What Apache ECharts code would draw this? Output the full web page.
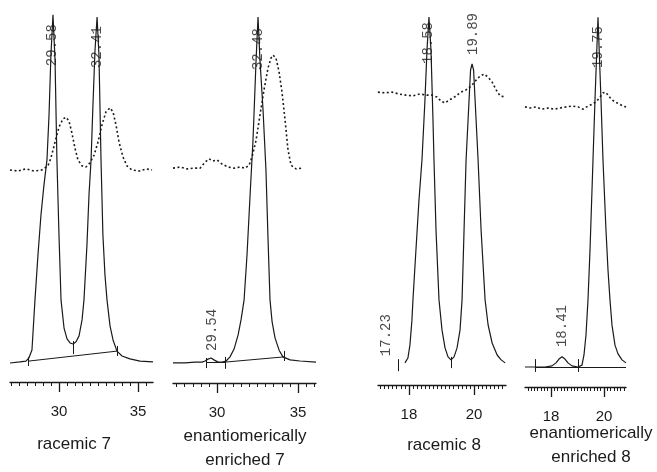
<!DOCTYPE html>
<html>
<head>
<meta charset="utf-8">
<script src="https://cdn.jsdelivr.net/npm/echarts@6/dist/echarts.min.js"></script>
<style>
  html, body { margin: 0; padding: 0; background: #fff; }
  #main { width: 657px; height: 472px; }
</style>
</head>
<body>
<div id="main"></div>
<script>
// racemic 7 : UV trace (solid) and CD trace (dotted), time in min
var rac7Time = [26.90, 27.53, 27.91, 28.10, 28.29, 28.48, 28.67, 28.86, 29.05, 29.24, 29.37, 29.49, 29.62, 29.75, 29.87, 30.00, 30.13, 30.32, 30.51, 30.70, 30.89, 31.08, 31.27, 31.46, 31.58, 31.77, 31.90, 32.03, 32.15, 32.28, 32.41, 32.53, 32.66, 32.78, 32.91, 33.04, 33.23, 33.42, 33.67, 33.99, 34.49, 35.13, 35.95];
var rac7Uv = [5.1, 5.4, 5.6, 6.5, 8.6, 22.0, 34.1, 44.9, 53.0, 59.7, 71.8, 87.9, 98.7, 86.6, 59.7, 39.5, 22.0, 14.5, 11.6, 10.5, 10.2, 10.8, 12.4, 16.7, 22.0, 36.8, 50.3, 59.7, 74.5, 89.2, 98.1, 87.9, 59.7, 39.5, 28.8, 22.0, 15.1, 11.3, 8.3, 7.0, 6.2, 5.6, 5.4];
var rac7CdTime = [26.90, 27.41, 27.91, 28.42, 28.92, 29.30, 29.49, 29.75, 30.00, 30.25, 30.44, 30.63, 30.82, 31.01, 31.20, 31.46, 31.71, 31.96, 32.22, 32.47, 32.72, 32.97, 33.23, 33.42, 33.61, 33.80, 34.05, 34.30, 34.62, 35.13, 35.51, 35.89];
var rac7Cd = [57.0, 56.7, 57.3, 56.7, 57.0, 58.1, 60.2, 64.5, 68.5, 70.7, 71.2, 70.2, 66.9, 62.9, 59.7, 58.1, 57.8, 58.9, 61.0, 64.5, 69.1, 72.6, 73.7, 72.6, 69.1, 64.5, 60.5, 58.1, 57.0, 56.7, 57.3, 57.0];
var rac7Base = [[28.04, 5.6, 33.67, 8.3]];
var rac7Marks = [[28.04, 6.7, 4.3], [30.89, 11.0, 7.5], [33.67, 9.7, 7.0]];
var rac7Peaks = [[29.56, 84.9, '29.58'], [32.41, 84.4, '32.41']];
var rac7Range = [26.9, 35.95];
var rac7Labels = [30, 35];

// enantiomerically enriched 7
var enr7Time = [27.28, 28.02, 28.64, 29.07, 29.26, 29.44, 29.63, 29.81, 30.06, 30.31, 30.56, 30.80, 31.05, 31.30, 31.48, 31.67, 31.85, 32.04, 32.22, 32.41, 32.53, 32.65, 32.84, 33.02, 33.15, 33.27, 33.40, 33.58, 33.83, 34.07, 34.51, 35.12, 36.11];
var enr7Uv = [5.4, 5.4, 5.6, 5.6, 5.9, 6.4, 6.7, 6.2, 5.6, 5.6, 5.9, 7.0, 9.1, 12.9, 16.9, 22.3, 34.3, 50.4, 65.1, 86.6, 98.1, 86.6, 73.2, 57.1, 38.3, 22.3, 16.4, 12.1, 8.8, 7.0, 6.2, 5.9, 5.6];
var enr7CdTime = [27.28, 27.72, 28.15, 28.58, 28.95, 29.26, 29.51, 29.75, 30.00, 30.31, 30.68, 31.05, 31.42, 31.73, 31.98, 32.16, 32.41, 32.65, 32.90, 33.15, 33.33, 33.46, 33.64, 33.83, 34.01, 34.20, 34.38, 34.57, 34.88, 35.25];
var enr7Cd = [57.6, 57.9, 57.4, 57.6, 57.6, 59.2, 60.1, 59.5, 59.8, 58.7, 57.9, 57.6, 57.9, 57.6, 58.4, 60.6, 65.1, 71.8, 78.6, 84.5, 87.1, 87.9, 87.1, 83.4, 78.0, 70.5, 62.5, 58.4, 57.4, 57.6];
var enr7Base = [[29.32, 5.6, 30.49, 5.6], [30.49, 5.6, 34.14, 7.0]];
var enr7Marks = [[29.32, 6.7, 4.0], [30.49, 7.0, 3.8], [34.14, 8.6, 5.9]];
var enr7Peaks = [[29.69, 8.6, '29.54'], [32.53, 83.9, '32.48']];
var enr7Range = [27.28, 36.11];
var enr7Labels = [30, 35];

// racemic 8
var rac8Time = [17.877, 17.969, 18.031, 18.092, 18.123, 18.215, 18.308, 18.400, 18.492, 18.554, 18.615, 18.677, 18.738, 18.769, 18.831, 18.923, 19.015, 19.108, 19.200, 19.292, 19.385, 19.477, 19.569, 19.631, 19.692, 19.754, 19.846, 19.892, 19.938, 19.985, 20.031, 20.123, 20.215, 20.338, 20.431, 20.554, 20.708, 20.831, 20.954];
var rac8Uv = [5.9, 7.2, 10.7, 17.3, 22.7, 36.0, 49.3, 60.0, 76.0, 89.3, 98.1, 89.3, 70.7, 60.0, 41.3, 22.7, 14.7, 9.9, 7.5, 6.7, 7.5, 9.9, 14.7, 22.7, 41.3, 60.0, 76.0, 84.0, 85.6, 84.0, 76.0, 60.0, 41.3, 22.7, 16.0, 11.2, 8.0, 6.7, 5.9];
var rac8CdTime = [17.046, 17.262, 17.477, 17.692, 17.908, 18.123, 18.338, 18.554, 18.708, 18.862, 18.985, 19.108, 19.231, 19.354, 19.477, 19.600, 19.754, 19.908, 20.062, 20.185, 20.308, 20.431, 20.554, 20.677, 20.800, 20.954];
var rac8Cd = [78.1, 77.9, 78.1, 77.6, 77.3, 77.1, 77.6, 77.3, 77.3, 76.8, 75.7, 75.2, 76.0, 76.5, 77.3, 78.1, 78.7, 79.7, 81.3, 82.4, 82.9, 82.1, 80.8, 78.7, 77.1, 76.8];
var rac8Base = [];
var rac8Marks = [[17.66, 6.9, 3.7], [19.292, 7.5, 4.5]];
var rac8Peaks = [[17.29, 7.7, '17.23'], [18.585, 85.6, '18.58'], [19.97, 88.0, '19.89']];
var rac8Range = [17.05, 20.98];
var rac8Labels = [18, 20];

// enantiomerically enriched 8
var enr8Time = [17.019, 17.396, 17.774, 18.038, 18.189, 18.302, 18.415, 18.528, 18.642, 18.792, 19.019, 19.170, 19.245, 19.321, 19.396, 19.472, 19.585, 19.660, 19.774, 19.887, 19.962, 20.075, 20.151, 20.226, 20.302, 20.415, 20.528, 20.679, 20.830];
var enr8Uv = [5.3, 5.3, 5.3, 5.6, 6.4, 7.4, 8.0, 7.4, 6.4, 5.6, 5.3, 5.8, 8.5, 13.8, 23.1, 36.3, 60.2, 76.1, 98.1, 76.1, 60.2, 41.6, 31.0, 23.1, 16.4, 11.1, 8.8, 7.2, 6.4];
var enr8CdTime = [17.019, 17.208, 17.434, 17.660, 17.887, 18.113, 18.340, 18.566, 18.792, 19.019, 19.208, 19.396, 19.585, 19.736, 19.849, 19.962, 20.038, 20.151, 20.264, 20.415, 20.566, 20.717, 20.830];
var enr8Cd = [74.3, 74.0, 74.3, 73.7, 74.0, 73.7, 74.0, 74.3, 74.5, 74.3, 73.7, 74.5, 75.1, 75.9, 76.9, 78.0, 78.2, 77.5, 76.4, 75.6, 75.1, 74.5, 74.3];
var enr8Base = [[17.396, 5.3, 20.830, 5.3]];
var enr8Marks = [[17.396, 7.4, 4.0], [19.019, 7.4, 4.0]];
var enr8Peaks = [[18.415, 10.6, '18.41'], [19.774, 84.6, '19.75']];
var enr8Range = [17.02, 20.83];
var enr8Labels = [18, 20];

var ink = '#1a1a1a';

var panels = [
  {time: rac7Time, uv: rac7Uv, cdTime: rac7CdTime, cd: rac7Cd, base: rac7Base, marks: rac7Marks, peaks: rac7Peaks, range: rac7Range, labels: rac7Labels, step: 0.5,
   grid: {left: 10, width: 143, top: 10, bottom: 90}, title: 'racemic 7', tx: 74, ty: 444},
  {time: enr7Time, uv: enr7Uv, cdTime: enr7CdTime, cd: enr7Cd, base: enr7Base, marks: enr7Marks, peaks: enr7Peaks, range: enr7Range, labels: enr7Labels, step: 0.5,
   grid: {left: 173, width: 143, top: 10, bottom: 89}, title: 'enantiomerically\nenriched 7', tx: 245, ty: 448},
  {time: rac8Time, uv: rac8Uv, cdTime: rac8CdTime, cd: rac8Cd, base: rac8Base, marks: rac8Marks, peaks: rac8Peaks, range: rac8Range, labels: rac8Labels, step: 0.125,
   grid: {left: 378, width: 128, top: 10, bottom: 87}, title: 'racemic 8', tx: 444, ty: 445},
  {time: enr8Time, uv: enr8Uv, cdTime: enr8CdTime, cd: enr8Cd, base: enr8Base, marks: enr8Marks, peaks: enr8Peaks, range: enr8Range, labels: enr8Labels, step: 0.125,
   grid: {left: 525, width: 101, top: 10, bottom: 85}, title: 'enantiomerically\nenriched 8', tx: 591, ty: 445}
];

function minorTicks(range, step) {
  var out = [];
  for (var v = Math.ceil(range[0] / step) * step; v <= range[1] + 1e-9; v += step) {
    out.push(+v.toFixed(3));
  }
  return out;
}

function zip(xs, ys) {
  return xs.map(function (x, i) { return [x, ys[i]]; });
}

var grids = [], xAxes = [], yAxes = [], series = [], graphics = [];

panels.forEach(function (p, i) {
  grids.push(p.grid);
  yAxes.push({type: 'value', gridIndex: i, min: 0, max: 100, show: false});
  // minor ticks + axis line
  xAxes.push({
    type: 'value', gridIndex: i, min: p.range[0], max: p.range[1], position: 'bottom',
    axisLine: {show: true, onZero: false, lineStyle: {color: ink, width: 1.3}},
    axisTick: {show: true, length: 4, customValues: minorTicks(p.range, p.step), lineStyle: {color: ink, width: 1}},
    axisLabel: {show: false},
    splitLine: {show: false}
  });
});
panels.forEach(function (p, i) {
  // major ticks with labels
  xAxes.push({
    type: 'value', gridIndex: i, min: p.range[0], max: p.range[1], position: 'bottom',
    axisLine: {show: false, onZero: false},
    axisTick: {show: true, length: 10, customValues: p.labels, lineStyle: {color: ink, width: 1.3}},
    axisLabel: {show: true, customValues: p.labels, margin: 22, color: ink, fontSize: 15, fontFamily: 'Liberation Sans'},
    splitLine: {show: false}
  });
});

panels.forEach(function (p, i) {
  series.push({
    type: 'line', xAxisIndex: i, yAxisIndex: i, data: zip(p.time, p.uv),
    showSymbol: false, symbol: 'none', z: 3,
    lineStyle: {color: ink, width: 1.2}
  });
  series.push({
    type: 'line', xAxisIndex: i, yAxisIndex: i, data: zip(p.cdTime, p.cd),
    showSymbol: false, symbol: 'none', z: 3,
    lineStyle: {color: ink, width: 1.6, type: [2, 2.5]}
  });
  var segs = p.base.map(function (b) { return {coords: [[b[0], b[1]], [b[2], b[3]]]}; });
  p.marks.forEach(function (m) { segs.push({coords: [[m[0], m[1]], [m[0], m[2]]]}); });
  series.push({
    type: 'lines', coordinateSystem: 'cartesian2d', xAxisIndex: i, yAxisIndex: i,
    data: segs, z: 3, silent: true,
    lineStyle: {color: ink, width: 1, opacity: 1}
  });
  series.push({
    type: 'scatter', xAxisIndex: i, yAxisIndex: i, data: p.peaks, symbolSize: 0, z: 2, silent: true,
    label: {
      show: true, position: 'top', distance: 0, rotate: 90, align: 'left', verticalAlign: 'middle',
      formatter: function (d) { return d.value[2]; },
      color: ink, fontSize: 14, fontFamily: 'Liberation Mono'
    }
  });
  graphics.push({
    type: 'text', x: p.tx, y: p.ty,
    style: {text: p.title, fill: ink, font: '17px "Liberation Sans"', textAlign: 'center', textVerticalAlign: 'middle', lineHeight: 24}
  });
});

var chart = echarts.init(document.getElementById('main'));
chart.setOption({
  animation: false,
  backgroundColor: '#fff',
  grid: grids,
  xAxis: xAxes,
  yAxis: yAxes,
  series: series,
  graphic: graphics
});
</script>
</body>
</html>
